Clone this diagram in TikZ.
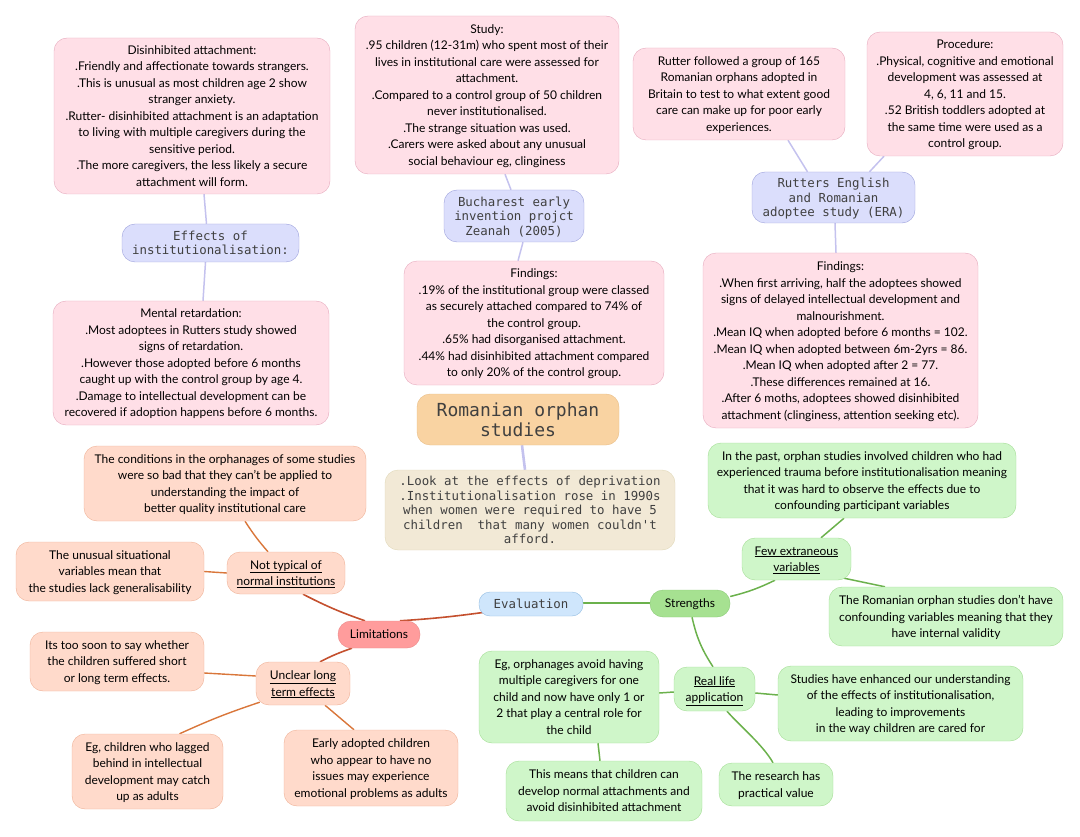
\documentclass[tikz,border=0pt]{standalone}
\usepackage{fontspec}
\setmainfont{Lato}
\newfontfamily\boxmono{DejaVu Sans Mono}
\usetikzlibrary{backgrounds}
\definecolor{pinkfill}{HTML}{FFDFE7}
\definecolor{pinkline}{HTML}{E6A9BD}
\definecolor{lavfill}{HTML}{DBDEFC}
\definecolor{lavline}{HTML}{9CA1DC}
\definecolor{lavedge}{HTML}{C4C2EE}
\definecolor{titlefill}{HTML}{F9D3A2}
\definecolor{titleline}{HTML}{E8BD86}
\definecolor{beigefill}{HTML}{F2E9D6}
\definecolor{beigeline}{HTML}{E0D8B8}
\definecolor{peachfill}{HTML}{FFDACB}
\definecolor{peachline}{HTML}{EFB196}
\definecolor{limfill}{HTML}{FF9C9C}
\definecolor{limline}{HTML}{E98A8A}
\definecolor{evalfill}{HTML}{CFE6FC}
\definecolor{evalline}{HTML}{94BEE2}
\definecolor{strongfill}{HTML}{A6E191}
\definecolor{strongline}{HTML}{8CCB78}
\definecolor{greenfill}{HTML}{CFF6C9}
\definecolor{greenline}{HTML}{A3DD95}
\definecolor{rededge}{HTML}{C4502E}
\definecolor{orangeedge}{HTML}{D9763A}
\definecolor{greenedge}{HTML}{6BB14C}
\begin{document}
\begin{tikzpicture}[x=1pt, y=-1pt,
	every node/.style={rectangle, draw, align=center, inner sep=0pt, rounded corners=13pt, text=black, text depth=-4pt, font=\fontsize{12}{16.5}\selectfont},
	monotext/.style={font=\boxmono\fontsize{12.4}{14.4}\selectfont, text=black!75, text depth=-1pt},
	pinkbox/.style={fill=pinkfill, draw=pinkline},
	lavbox/.style={monotext, fill=lavfill, draw=lavline},
	peachbox/.style={fill=peachfill, draw=peachline},
	greenbox/.style={fill=greenfill, draw=greenline},
	lavlink/.style={draw=lavedge, line width=1.5pt},
	redlink/.style={draw=rededge, line width=1.6pt},
	orangelink/.style={draw=orangeedge, line width=1.4pt},
	greenlink/.style={draw=greenedge, line width=1.5pt}]
	\useasboundingbox (0,0) rectangle (1080,837);
	\node[pinkbox, minimum width=276pt, minimum height=156pt] (disinhibited) at (192,116) {Disinhibited attachment:\\.Friendly and affectionate towards strangers.\\.This is unusual as most children age 2 show\\stranger anxiety.\\.Rutter- disinhibited attachment is an adaptation\\to living with multiple caregivers during the\\sensitive period.\\.The more caregivers, the less likely a secure\\attachment will form.};
	\node[lavbox, minimum width=177pt, minimum height=38pt] (effects) at (210.5,243) {Effects of\\institutionalisation:};
	\node[pinkbox, minimum width=276pt, minimum height=124pt] (mental) at (191,363) {Mental retardation:\\.Most adoptees in Rutters study showed\\signs of retardation.\\.However those adopted before 6 months\\caught up with the control group by age 4.\\.Damage to intellectual development can be\\recovered if adoption happens before 6 months.};
	\node[pinkbox, minimum width=264pt, minimum height=158pt] (study) at (487,95) {Study:\\.95 children (12-31m) who spent most of their\\lives in institutional care were assessed for\\attachment.\\.Compared to a control group of 50 children\\never institutionalised.\\.The strange situation was used.\\.Carers were asked about any unusual\\social behaviour eg, clinginess};
	\node[lavbox, minimum width=140pt, minimum height=52pt] (bucharest) at (514,216) {Bucharest early\\invention projct\\Zeanah (2005)};
	\node[pinkbox, minimum width=260pt, minimum height=124pt] (findingsmid) at (534,323) {Findings:\\.19\% of the institutional group were classed\\as securely attached compared to 74\% of\\the control group.\\.65\% had disorganised attachment.\\.44\% had disinhibited attachment compared\\to only 20\% of the control group.};
	\node[pinkbox, minimum width=212pt, minimum height=92pt] (rutter) at (739,94) {Rutter followed a group of 165\\Romanian orphans adopted in\\Britain to test to what extent good\\care can make up for poor early\\experiences.};
	\node[pinkbox, minimum width=196pt, minimum height=124pt] (procedure) at (965,94) {Procedure:\\.Physical, cognitive and emotional\\development was assessed at\\4, 6, 11 and 15.\\.52 British toddlers adopted at\\the same time were used as a\\control group.};
	\node[lavbox, minimum width=163pt, minimum height=51pt] (era) at (833.5,197.5) {Rutters English\\and Romanian\\adoptee study (ERA)};
	\node[pinkbox, minimum width=275pt, minimum height=175pt] (findingsright) at (840.5,340.5) {Findings:\\.When first arriving, half the adoptees showed\\signs of delayed intellectual development and\\malnourishment.\\.Mean IQ when adopted before 6 months = 102.\\.Mean IQ when adopted between 6m-2yrs = 86.\\.Mean IQ when adopted after 2 = 77.\\.These differences remained at 16.\\.After 6 moths, adoptees showed disinhibited\\attachment (clinginess, attention seeking etc).};
	\node[monotext, fill=titlefill, draw=titleline, minimum width=202pt, minimum height=51pt, font=\boxmono\fontsize{18}{20}\selectfont] (title) at (518,419.5) {Romanian orphan\\studies};
	\node[monotext, fill=beigefill, draw=beigeline, minimum width=290pt, minimum height=80pt] (look) at (530,510) {.Look at the effects of deprivation\\.Institutionalisation rose in 1990s\\when women were required to have 5\\children\ \ that many women couldn't\\afford.};
	\node[peachbox, minimum width=282pt, minimum height=75pt] (conditions) at (225,483.5) {The conditions in the orphanages of some studies\\were so bad that they can't be applied to\\understanding the impact of\\better quality institutional care};
	\node[peachbox, minimum width=118pt, minimum height=42pt] (nottypical) at (286,573) {\underline{Not typical of}\\\underline{normal institutions}};
	\node[peachbox, minimum width=188pt, minimum height=59pt] (unusual) at (110,571.5) {The unusual situational\\variables mean that\\the studies lack generalisability};
	\node[fill=limfill, draw=limline, minimum width=82pt, minimum height=27pt] (limitations) at (379,634.5) {Limitations};
	\node[monotext, fill=evalfill, draw=evalline, minimum width=104pt, minimum height=24pt, rounded corners=11pt] (evaluation) at (531,604) {Evaluation};
	\node[fill=strongfill, draw=strongline, minimum width=80pt, minimum height=27pt] (strengths) at (690,603.5) {Strengths};
	\node[peachbox, minimum width=174pt, minimum height=59pt] (toosoon) at (117,661.5) {Its too soon to say whether\\the children suffered short\\or long term effects.};
	\node[peachbox, minimum width=94pt, minimum height=43pt] (unclear) at (303,683.5) {\underline{Unclear long}\\\underline{term effects}};
	\node[peachbox, minimum width=151pt, minimum height=75pt] (lagged) at (147.5,771.5) {Eg, children who lagged\\behind in intellectual\\development may catch\\up as adults};
	\node[peachbox, minimum width=174pt, minimum height=76pt] (early) at (371,768) {Early adopted children\\who appear to have no\\issues may experience\\emotional problems as adults};
	\node[greenbox, minimum width=308pt, minimum height=75pt] (past) at (862,480.5) {In the past, orphan studies involved children who had\\experienced trauma before institutionalisation meaning\\that it was hard to observe the effects due to\\confounding participant variables};
	\node[greenbox, minimum width=109pt, minimum height=42pt] (extraneous) at (796.5,559) {\underline{Few extraneous}\\\underline{variables}};
	\node[greenbox, minimum width=234pt, minimum height=59pt] (confounding) at (946,616.5) {The Romanian orphan studies don't have\\confounding variables meaning that they\\have internal validity};
	\node[greenbox, minimum width=180pt, minimum height=92pt] (orphanages) at (569,697) {Eg, orphanages avoid having\\multiple caregivers for one\\child and now have only 1 or\\2 that play a central role for\\the child};
	\node[greenbox, minimum width=81pt, minimum height=44pt] (reallife) at (714.5,689) {\underline{Real life}\\\underline{application}};
	\node[greenbox, minimum width=245pt, minimum height=75pt] (enhanced) at (900.5,703.5) {Studies have enhanced our understanding\\of the effects of institutionalisation,\\leading to improvements\\in the way children are cared for};
	\node[greenbox, minimum width=196pt, minimum height=60pt] (normal) at (604,791) {This means that children can\\develop normal attachments and\\avoid disinhibited attachment};
	\node[greenbox, minimum width=114pt, minimum height=43pt] (research) at (776,784.5) {The research has\\practical value};
	\begin{scope}[on background layer]
		\draw[lavlink] ([xshift=12pt]disinhibited.south) -- ([xshift=-4pt]effects.north);
		\draw[lavlink] ([xshift=-5pt]effects.south) -- ([xshift=12pt]mental.north);
		\draw[lavlink] ([xshift=18pt]study.south) -- ([xshift=-3pt]bucharest.north);
		\draw[lavlink] ([xshift=9pt]bucharest.south) -- ([xshift=-16pt]findingsmid.north);
		\draw[lavlink] ([xshift=49pt]rutter.south) -- ([xshift=-26pt]era.north);
		\draw[lavlink] ([xshift=-81pt]procedure.south) -- ([xshift=36pt]era.north);
		\draw[lavlink] ([xshift=1.5pt]era.south) -- ([xshift=-4.5pt]findingsright.north);
		\draw[lavlink, line width=2.6pt] ([xshift=4pt]title.south) -- ([xshift=-5pt]look.north);
		\draw[redlink] ([xshift=21pt]limitations.north) to[bend right=2] ([xshift=-46pt,yshift=4pt]evaluation.south);
		\draw[redlink] ([xshift=-14pt]limitations.north) to[bend left=4] ([xshift=17pt]nottypical.south);
		\draw[orangelink] ([xshift=-18pt]nottypical.north) to[bend left=4] ([xshift=20pt]conditions.south);
		\draw[orangelink] (nottypical.west) -- (unusual.east);
		\draw[redlink] ([xshift=-27pt]limitations.south) to[bend right=4] ([xshift=17pt]unclear.north);
		\draw[orangelink] ([yshift=7.5pt]unclear.west) -- ([yshift=-11.5pt]toosoon.east);
		\draw[orangelink] ([yshift=3pt,xshift=4pt]unclear.south west) to[bend right=3] ([xshift=32pt]lagged.north);
		\draw[orangelink] ([xshift=22pt]unclear.south) -- ([xshift=-17pt]early.north);
		\draw[greenlink] ([yshift=1pt]evaluation.east) -- ([yshift=.5pt]strengths.west);
		\draw[greenlink] ([yshift=7pt]strengths.east) to[bend right=6] ([xshift=-21.5pt]extraneous.south);
		\draw[greenlink] ([xshift=24.5pt]extraneous.north) -- ([xshift=-18pt]past.south);
		\draw[greenlink] ([xshift=47.5pt,yshift=2pt]extraneous.south) -- ([xshift=-61pt]confounding.north);
		\draw[greenlink] ([xshift=2pt]strengths.south) to[bend right=10] ([xshift=-1.5pt]reallife.north);
		\draw[greenlink] ([yshift=-3pt]reallife.west) -- ([yshift=4pt]orphanages.east);
		\draw[greenlink] ([yshift=-4pt]reallife.east) -- ([yshift=8.5pt]enhanced.west);
		\draw[greenlink] ([xshift=12.5pt]reallife.south) .. controls +(12,14) and +(-10,-18) .. ([xshift=-3pt]research.north);
		\draw[greenlink] ([xshift=29pt]orphanages.south) -- ([xshift=-4pt]normal.north);
	\end{scope}
\end{tikzpicture}
\end{document}
